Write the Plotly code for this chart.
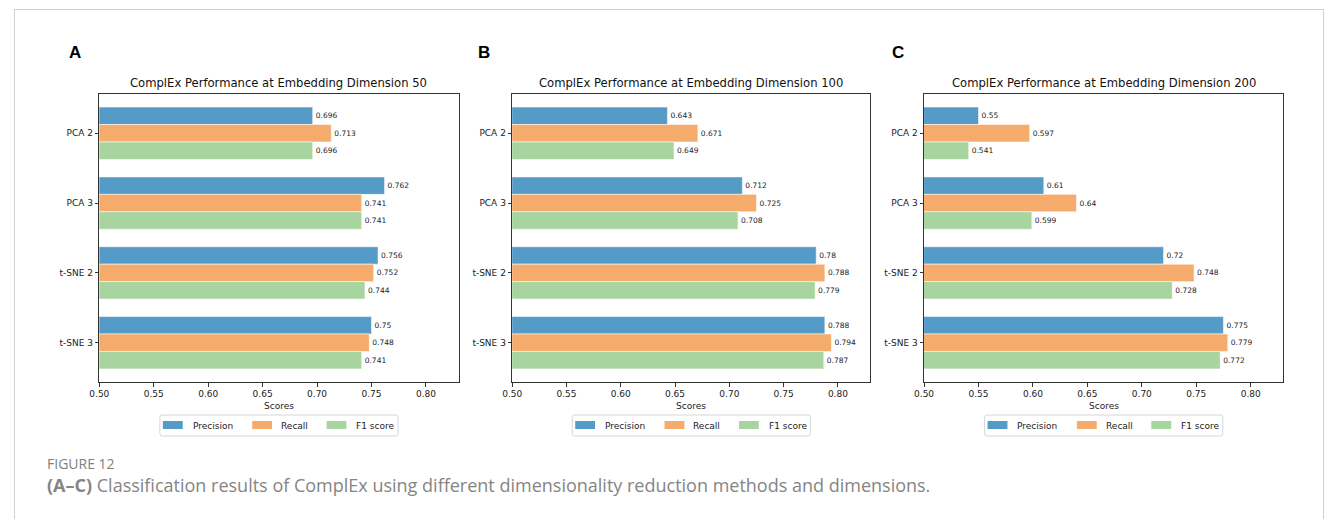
import plotly.graph_objects as go

W, H = 1328, 519

categories = ["PCA 2", "PCA 3", "t-SNE 2", "t-SNE 3"]
series_names = ["Precision", "Recall", "F1 score"]
series_colors = ["#559bc8", "#f4ab6c", "#a8d49f"]

dims = [50, 100, 200]
panel_letters = ["A", "B", "C"]

dim50_precision = [0.696, 0.762, 0.756, 0.75]
dim50_recall = [0.713, 0.741, 0.752, 0.748]
dim50_f1 = [0.696, 0.741, 0.744, 0.741]

dim100_precision = [0.643, 0.712, 0.78, 0.788]
dim100_recall = [0.671, 0.725, 0.788, 0.794]
dim100_f1 = [0.649, 0.708, 0.779, 0.787]

dim200_precision = [0.55, 0.61, 0.72, 0.775]
dim200_recall = [0.597, 0.64, 0.748, 0.779]
dim200_f1 = [0.541, 0.599, 0.728, 0.772]

panels = [
    [dim50_precision, dim50_recall, dim50_f1],
    [dim100_precision, dim100_recall, dim100_f1],
    [dim200_precision, dim200_recall, dim200_f1],
]

x_ticks = [0.50, 0.55, 0.60, 0.65, 0.70, 0.75, 0.80]
x_range = [0.5, 0.83]

axes_x = [(90, 452), (506, 867), (921, 1283)]
letter_x = [57, 470, 887]
axes_top, axes_bottom = 94, 382

def px(x):
    return x / W

def py(y):
    return 1 - y / H

FONT = "DejaVu Sans"
fig = go.Figure()

shapes = []
annotations = []

for p, (vals, (x0, x1)) in enumerate(zip(panels, axes_x)):
    sfx = "" if p == 0 else str(p + 1)
    for s, name in enumerate(series_names):
        fig.add_trace(go.Bar(
            x=vals[s], y=categories, orientation="h", name=name,
            marker=dict(color=series_colors[s], line=dict(color="rgba(255,255,255,0.55)", width=1)),
            text=[str(v) for v in vals[s]], textposition="outside",
            textfont=dict(family=FONT, size=7.5, color="#222"),
            cliponaxis=False, constraintext="none",
            xaxis="x" + sfx, yaxis="y" + sfx, showlegend=False,
            hoverinfo="skip",
        ))
    axis_common = dict(showline=True, linecolor="#333", linewidth=1, mirror=True,
                       ticks="outside", ticklen=3.5, tickcolor="#333", showgrid=False,
                       zeroline=False, tickfont=dict(family=FONT, size=9, color="#222"))
    fig.update_layout(**{
        "xaxis" + sfx: dict(domain=[px(x0), px(x1)], range=x_range, tickvals=x_ticks,
                            tickformat=".2f", anchor="y" + sfx, **axis_common),
        "yaxis" + sfx: dict(domain=[py(axes_bottom), py(axes_top)], type="category",
                            categoryorder="array", categoryarray=categories,
                            range=[3.5625, -0.5625], anchor="x" + sfx, **axis_common),
    })
    cx = (x0 + x1) / 2
    annotations.append(dict(x=px(cx), y=py(83), xref="paper", yref="paper",
                            text=f"ComplEx Performance at Embedding Dimension {dims[p]}",
                            showarrow=False, xanchor="center", yanchor="middle",
                            font=dict(family=FONT, size=11.6, color="#111")))
    annotations.append(dict(x=px(cx), y=py(406), xref="paper", yref="paper", text="Scores",
                            showarrow=False, xanchor="center", yanchor="middle",
                            font=dict(family=FONT, size=9, color="#222")))
    annotations.append(dict(x=px(letter_x[p]), y=py(52), xref="paper", yref="paper",
                            text=f"<b>{panel_letters[p]}</b>", showarrow=False,
                            xanchor="left", yanchor="middle",
                            font=dict(family="Liberation Sans", size=17, color="#000")))
    bl, br, bt, bb = cx - 120, cx + 120, 415, 436
    r = 2.5
    path = (f"M {px(bl + r)},{py(bt)} L {px(br - r)},{py(bt)} Q {px(br)},{py(bt)} {px(br)},{py(bt + r)} "
            f"L {px(br)},{py(bb - r)} Q {px(br)},{py(bb)} {px(br - r)},{py(bb)} "
            f"L {px(bl + r)},{py(bb)} Q {px(bl)},{py(bb)} {px(bl)},{py(bb - r)} "
            f"L {px(bl)},{py(bt + r)} Q {px(bl)},{py(bt)} {px(bl + r)},{py(bt)} Z")
    shapes.append(dict(type="path", xref="paper", yref="paper", path=path,
                       line=dict(color="#d6d6d6", width=1), fillcolor="rgba(255,255,255,0.8)"))
    sw_off = [3, 93, 168]
    tx_off = [31, 120, 196]
    for s, name in enumerate(series_names):
        shapes.append(dict(type="rect", xref="paper", yref="paper",
                           x0=px(bl + sw_off[s]), x1=px(bl + sw_off[s] + 20),
                           y0=py(429), y1=py(421), line=dict(width=0),
                           fillcolor=series_colors[s]))
        annotations.append(dict(x=px(bl + tx_off[s]), y=py(425.5), xref="paper", yref="paper",
                                text=name, showarrow=False, xanchor="left", yanchor="middle",
                                font=dict(family=FONT, size=9, color="#222")))

shapes.append(dict(type="rect", xref="paper", yref="paper", x0=px(4.5), x1=px(1323.5),
                   y0=py(540), y1=py(9.5), line=dict(color="#d0d0d0", width=1),
                   fillcolor="rgba(0,0,0,0)"))

annotations.append(dict(x=px(35), y=py(463), xref="paper", yref="paper", text="FIGURE 12",
                        showarrow=False, xanchor="left", yanchor="middle",
                        font=dict(family="Open Sans", size=14, color="#7f7f7f")))
annotations.append(dict(x=px(35), y=py(484.5), xref="paper", yref="paper",
                        text="<b>(A–C)</b> Classification results of ComplEx using different dimensionality reduction methods and dimensions.",
                        showarrow=False, xanchor="left", yanchor="middle",
                        font=dict(family="Open Sans", size=18, color="#858585")))

fig.update_layout(width=W, height=H, margin=dict(l=0, r=0, t=0, b=0),
                  paper_bgcolor="white", plot_bgcolor="white",
                  barmode="group", bargap=0.25, bargroupgap=0,
                  shapes=shapes, annotations=annotations, showlegend=False)

fig.write_html("out.html")
